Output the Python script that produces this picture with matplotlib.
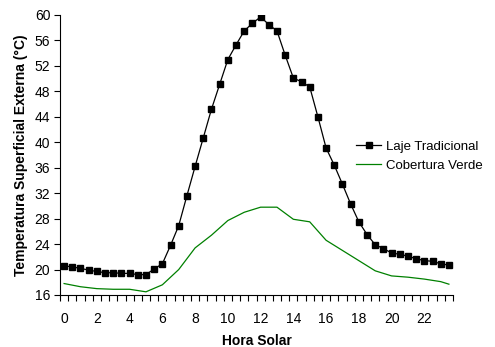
import numpy as np
import matplotlib
matplotlib.use("Agg")
import matplotlib.pyplot as plt
from matplotlib.ticker import MultipleLocator, FixedLocator

# half-hourly readings, Laje Tradicional
hours = np.arange(0, 24, 0.5)
laje = [20.6, 20.4, 20.2, 19.9, 19.7, 19.5, 19.5, 19.4, 19.4, 19.2,
        19.2, 20.1, 20.9, 23.8, 26.9, 31.6, 36.2, 40.7, 45.2, 49.1,
        53.0, 55.3, 57.5, 58.7, 59.7, 58.5, 57.5, 53.7, 50.1, 49.5,
        48.7, 44.0, 39.1, 36.4, 33.4, 30.3, 27.5, 25.5, 23.9, 23.3,
        22.6, 22.4, 22.1, 21.7, 21.4, 21.3, 20.9, 20.7]

# hourly readings, Cobertura Verde
hours_verde = [0, 1, 2, 3, 4, 5, 6, 7, 8, 9, 10, 11, 12, 13, 14, 15,
               16, 17, 18, 19, 20, 21, 22, 23, 23.5]
verde = [17.8, 17.3, 17.0, 16.9, 16.9, 16.5, 17.6, 20.0, 23.4, 25.4,
         27.7, 29.0, 29.8, 29.8, 27.9, 27.5, 24.6, 23.0, 21.4, 19.8,
         19.0, 18.8, 18.5, 18.1, 17.7]

xlabels = [0, 2, 4, 6, 8, 10, 12, 14, 16, 18, 20, 22]

plt.rcParams['font.family'] = ['Liberation Sans', 'DejaVu Sans']

fig = plt.figure(figsize=(4.95, 3.47), dpi=100)
ax = fig.add_axes([60/495, 1 - 295/347, 393/495, 280/347])

l1, = ax.plot(hours, laje, color='black', lw=0.9, marker='s',
              markersize=4.8, label='Laje Tradicional')
l2, = ax.plot(hours_verde, verde, color='#008000', lw=0.9,
              label='Cobertura Verde')

ax.set_xlim(-0.25, 23.75)
ax.set_ylim(16, 60)
ax.yaxis.set_major_locator(MultipleLocator(4))

# category-style axis: ticks between categories, labels on categories
ax.xaxis.set_major_locator(FixedLocator(xlabels))
ax.xaxis.set_minor_locator(FixedLocator(np.arange(-0.25, 23.8, 0.5)))
ax.tick_params(axis='x', which='major', length=0, pad=12, labelsize=10)
ax.tick_params(axis='x', which='minor', length=4, width=0.8, direction='out')
ax.tick_params(axis='y', length=4, width=0.8, labelsize=10, pad=3)

for s in ['top', 'right']:
    ax.spines[s].set_visible(False)
for s in ['left', 'bottom']:
    ax.spines[s].set_linewidth(0.8)

ax.set_xlabel('Hora Solar', fontsize=10, fontweight='bold', labelpad=6)
ax.set_ylabel('Temperatura Superficial Externa (°C)', fontsize=10,
              fontweight='bold', labelpad=5)

fig.legend(handles=[l1, l2], loc='center left',
           bbox_to_anchor=(356/495, 1 - 156/347), frameon=False,
           fontsize=9.5, handlelength=1.9, handletextpad=0.35,
           labelspacing=0.5, borderaxespad=0, borderpad=0)

fig.savefig('out.png', dpi=100)
